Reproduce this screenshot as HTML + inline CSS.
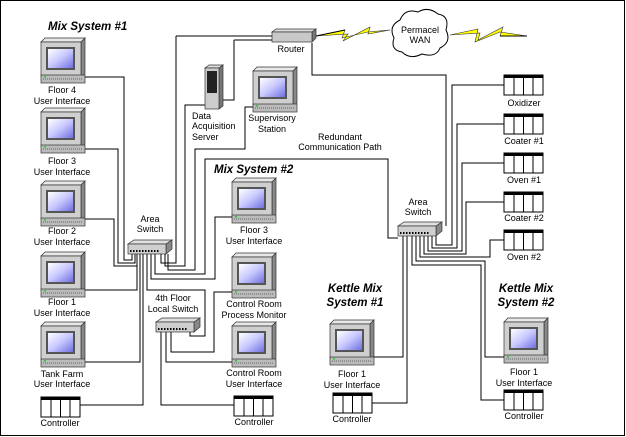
<!DOCTYPE html>
<html><head><meta charset="utf-8"><style>
body{margin:0;background:#fff}
svg{display:block}
text{font-family:"Liberation Sans",sans-serif;font-size:9px;fill:#000}
.t{font-size:11.5px;font-style:italic;font-weight:bold}
</style></head><body>
<svg width="626" height="437" viewBox="0 0 626 437">
<defs>
<linearGradient id="scr" x1="0" y1="0" x2="1" y2="1"><stop offset="0" stop-color="#ffffff"/><stop offset="0.5" stop-color="#c8c8ff"/><stop offset="1" stop-color="#7070e0"/></linearGradient>
<g id="pc">
<polygon points="0,4 4,0 44,0 40,4" fill="#e8e8e8" stroke="#333" stroke-width="0.7"/>
<polygon points="40,4 44,0 44,36 40,40" fill="#888" stroke="#333" stroke-width="0.7"/>
<rect x="0" y="4" width="40" height="34" fill="#cfcfcf" stroke="#333" stroke-width="0.7"/>
<rect x="5" y="9" width="29" height="23" fill="#555"/>
<rect x="7" y="11" width="25" height="19" fill="url(#scr)"/>
<rect x="0" y="37" width="44" height="8" fill="#bbb" stroke="#333" stroke-width="0.7"/>
<line x1="2" y1="41" x2="42" y2="41" stroke="#666" stroke-dasharray="1,1"/>
<rect x="3" y="38" width="2" height="1.5" fill="#2c2"/>
</g>
<g id="plc">
<rect x="0" y="0" width="39" height="20" fill="#fff" stroke="#000"/>
<rect x="0" y="0" width="39" height="3" fill="#000"/>
<line x1="10" y1="0" x2="10" y2="20" stroke="#000"/><line x1="19.5" y1="0" x2="19.5" y2="20" stroke="#000"/><line x1="29" y1="0" x2="29" y2="20" stroke="#000"/>
</g>
<g id="sw">
<polygon points="0,4 6,0 44,0 38,4" fill="#e0e0e0" stroke="#333" stroke-width="0.7"/>
<polygon points="38,4 44,0 44,9 38,14" fill="#888" stroke="#333" stroke-width="0.7"/>
<rect x="0" y="4" width="38" height="10" fill="#cfcfcf" stroke="#333" stroke-width="0.7"/>
<line x1="2" y1="11" x2="32" y2="11" stroke="#000" stroke-width="2" stroke-dasharray="1.5,1.5"/>
</g>
</defs>
<rect x="0.5" y="0.5" width="624" height="435" fill="#fff" stroke="#000"/>
<g fill="none" stroke="#000" stroke-width="1">
<polyline points="85,77 124,77 124,260 132,260 132,254"/>
<polyline points="85,149 118,149 118,263 135,263 135,254"/>
<polyline points="85,219 114,219 114,266 137,266 137,254"/>
<polyline points="85,290 137,290 137,254"/>
<polyline points="85,362 140,362 140,254"/>
<polyline points="80,405 143,405 143,254"/>
<polyline points="176,36 272,36"/>
<polyline points="161,254 161,263 176,263 176,36"/>
<polyline points="165,254 165,266 185,266 185,105 205,105"/>
<polyline points="234,40 234,100 223,100"/>
<polyline points="234,40 275,40"/>
<polyline points="168,254 168,270 195,270 195,149 245,149 245,107 253,107"/>
<polyline points="155,254 155,274 205,274 205,159 388,159 388,238 398,238"/>
<polyline points="151,254 151,279 215,279 215,217 232,217"/>
<polyline points="147,254 147,290 205,290 205,336 190,336 190,331"/>
<polyline points="171,331 171,352 214,352 214,292 232,292"/>
<polyline points="166,331 166,362 232,362"/>
<polyline points="161,331 161,405 234,405"/>
<polyline points="312,43 312,75 446,75 446,226"/>
<polyline points="436,236 436,245 452,245 452,85 504,85"/>
<polyline points="432,236 432,248 457,248 457,124 504,124"/>
<polyline points="428,236 428,251 462,251 462,163 504,163"/>
<polyline points="424,236 424,254 466,254 466,202 504,202"/>
<polyline points="420,236 420,257 490,257 490,240 504,240"/>
<polyline points="416,236 416,261 485,261 485,357 504,357"/>
<polyline points="412,236 412,265 481,265 481,400 504,400"/>
<polyline points="407,236 407,403 372,403"/>
<polyline points="403,236 403,357 374,357"/>
</g>
<use href="#pc" x="41" y="38"/><use href="#pc" x="41" y="108"/><use href="#pc" x="41" y="181"/><use href="#pc" x="41" y="252"/><use href="#pc" x="41" y="322"/>
<use href="#plc" x="41" y="397"/>
<use href="#pc" x="253" y="67"/>
<use href="#pc" x="232" y="178"/><use href="#pc" x="232" y="253"/><use href="#pc" x="232" y="322"/>
<use href="#plc" x="234" y="396"/>
<use href="#pc" x="330" y="320"/><use href="#plc" x="333" y="393"/>
<use href="#pc" x="504" y="318"/><use href="#plc" x="504" y="390"/>
<use href="#plc" x="504" y="75"/><use href="#plc" x="504" y="114"/><use href="#plc" x="504" y="153"/><use href="#plc" x="504" y="192"/><use href="#plc" x="504" y="230"/>
<use href="#sw" x="128" y="240"/><use href="#sw" x="156" y="318"/><use href="#sw" x="398" y="222"/>
<polygon points="205,68 209,65 223,65 219,68" fill="#ddd" stroke="#333" stroke-width="0.7"/>
<polygon points="219,68 223,65 223,106 219,109" fill="#777" stroke="#333" stroke-width="0.7"/>
<rect x="205" y="68" width="14" height="41" fill="#ccc" stroke="#333" stroke-width="0.7"/>
<rect x="207" y="71" width="10" height="22" fill="#222"/>
<polygon points="272,32 276,29 316,29 312,32" fill="#ddd" stroke="#333" stroke-width="0.7"/>
<polygon points="312,32 316,29 316,38 312,42" fill="#777" stroke="#333" stroke-width="0.7"/>
<rect x="272" y="32" width="40" height="10" fill="#c8c8c8" stroke="#333" stroke-width="0.7"/>
<polygon points="316,36 345,30 342,38 368,32 390,30 368,34 370,27 343,41 348,34" fill="#ff0" stroke="#333" stroke-width="0.6"/>
<polyline points="316,36 345,30" stroke="#000" fill="none"/>
<polygon points="450,35 478,29 475,42 500,32 527,36 500,36 503,27 478,40 480,33" fill="#ff0" stroke="#333" stroke-width="0.6"/>
<polyline points="500,36 527,36" stroke="#000" fill="none"/>
<path d="M400,20 Q405,8 418,12 Q428,6 438,14 Q450,16 446,30 Q452,42 440,48 Q436,58 422,54 Q410,60 402,52 Q390,50 394,38 Q388,26 400,20 Z" fill="#fff" stroke="#000"/>
<g text-anchor="middle">
<text x="420" y="33">Permacel</text><text x="420" y="43">WAN</text>
<text x="291" y="52">Router</text>
<text x="272" y="121">Supervisory</text><text x="272" y="132">Station</text>
<text x="340" y="140">Redundant</text><text x="340" y="150">Communication Path</text>
<text x="62" y="93">Floor 4</text><text x="62" y="104">User Interface</text>
<text x="62" y="164">Floor 3</text><text x="62" y="175">User Interface</text>
<text x="62" y="234">Floor 2</text><text x="62" y="245">User Interface</text>
<text x="62" y="305">Floor 1</text><text x="62" y="316">User Interface</text>
<text x="62" y="377">Tank Farm</text><text x="62" y="387">User Interface</text>
<text x="60" y="426">Controller</text>
<text x="150" y="222">Area</text><text x="150" y="232">Switch</text>
<text x="173" y="301">4th Floor</text><text x="173" y="312">Local Switch</text>
<text x="254" y="233">Floor 3</text><text x="254" y="244">User Interface</text>
<text x="254" y="307">Control Room</text><text x="254" y="318">Process Monitor</text>
<text x="254" y="376">Control Room</text><text x="254" y="387">User Interface</text>
<text x="254" y="425">Controller</text>
<text x="418" y="205">Area</text><text x="418" y="215">Switch</text>
<text x="524" y="106">Oxidizer</text><text x="524" y="144">Coater #1</text><text x="524" y="183">Oven #1</text><text x="524" y="221">Coater #2</text><text x="524" y="260">Oven #2</text>
<text x="352" y="377">Floor 1</text><text x="352" y="388">User Interface</text>
<text x="352" y="422">Controller</text>
<text x="524" y="375">Floor 1</text><text x="524" y="386">User Interface</text>
<text x="524" y="419">Controller</text>
<text class="t" x="355" y="292">Kettle Mix</text><text class="t" x="355" y="306">System #1</text>
<text class="t" x="526" y="292">Kettle Mix</text><text class="t" x="526" y="306">System #2</text>
</g>
<text x="192" y="119">Data</text><text x="192" y="129">Acquisition</text><text x="192" y="140">Server</text>
<text class="t" x="48" y="30">Mix System #1</text>
<text class="t" x="214" y="173">Mix System #2</text>
</svg>
</body></html>
